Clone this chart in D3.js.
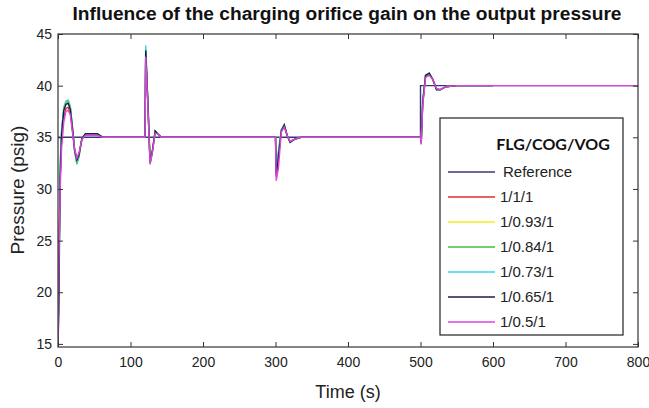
<!DOCTYPE html>
<html>
<head>
<meta charset="utf-8">
<script src="https://cdn.jsdelivr.net/npm/d3@7"></script>
<style>
  body { margin: 0; background: #fff; }
  text { font-family: "Liberation Sans Narrow", "Arial Narrow", "Liberation Sans", Arial, sans-serif; }
</style>
</head>
<body>
<svg id="canvas"></svg>
<script>
// time samples shared by the response curves (s)
const times = [0, 1, 3, 5, 8, 11, 14, 17, 20, 23, 26, 29, 33, 38, 54, 62,
  120, 121, 124, 127, 130, 134, 138, 143,
  300, 301, 304, 308, 312, 316, 320, 326, 335, 360,
  500, 501, 503, 507, 512, 517, 522, 527, 535, 550, 600, 800];

// reference setpoint
const refTimes = [0, 500, 500, 800];
const refValues = [35, 35, 40, 40];

// output pressure (psig) for each FLG/COG/VOG gain set
const red = [14.3, 22, 31, 35, 37, 37.8, 37.9, 37.3, 35.6, 33.8, 33.0, 33.4, 34.8, 35.3, 35.3, 35.0,
  35, 43.0, 38, 32.5, 33.6, 35.5, 35.3, 35.0,
  35, 31.5, 33, 35.6, 36.1, 35.2, 34.6, 34.8, 35.0, 35,
  35, 34.5, 38.2, 40.9, 41.1, 40.6, 39.7, 39.6, 39.9, 40.0, 40, null];
const yellow = [14.5, 21, 32, 35.5, 37.6, 38.3, 38.4, 37.8, 35.9, 33.6, 32.4, 33.2, 34.9, 35.35, 35.35, 35.0,
  35, 43.3, 38.2, 32.4, 33.5, 35.6, 35.3, 35.0,
  35, 32, 33.4, 35.7, 36.2, 35.2, 34.6, 34.8, 35.0, 35,
  35, 34.6, 38.4, 41.0, 41.2, 40.6, 39.7, 39.6, 39.9, 40.0, 40, null];
const green = [14.5, 20, 32.5, 35.8, 37.9, 38.5, 38.6, 38.0, 36.0, 33.6, 32.4, 33.1, 34.9, 35.35, 35.35, 35.0,
  35, 43.5, 38.3, 32.4, 33.5, 35.6, 35.3, 35.0,
  35, 32.3, 33.6, 35.7, 36.2, 35.2, 34.6, 34.8, 35.0, 35,
  35, 34.7, 38.5, 41.0, 41.2, 40.6, 39.7, 39.6, 39.9, 40.0, 40, null];
const cyan = [14.5, 19, 32, 35.6, 37.8, 38.4, 38.5, 37.9, 35.9, 33.7, 32.6, 33.2, 34.9, 35.35, 35.35, 35.0,
  35, 43.9, 38.5, 32.5, 33.5, 35.6, 35.3, 35.0,
  35, 31.8, 33.4, 35.7, 36.2, 35.2, 34.6, 34.8, 35.0, 35,
  35, 34.5, 38.4, 41.0, 41.2, 40.6, 39.7, 39.6, 39.9, 40.0, 40, null];
const black = [14.5, 18, 31, 35.3, 37.6, 38.2, 38.3, 37.7, 35.8, 33.7, 32.8, 33.3, 34.9, 35.35, 35.35, 35.0,
  35, 43.4, 38.3, 32.6, 33.6, 35.6, 35.3, 35.0,
  35, 31.2, 33.1, 35.6, 36.2, 35.2, 34.5, 34.8, 35.0, 35,
  35, 34.4, 38.3, 41.0, 41.2, 40.6, 39.6, 39.6, 39.9, 40.0, 40, null];
const magenta = [14.5, 22, 30, 34, 36.5, 37.5, 37.6, 37.2, 35.5, 33.8, 33.0, 33.5, 34.8, 35.2, 35.2, 35.0,
  35, 42.8, 38, 32.4, 33.5, 35.4, 35.3, 35.0,
  35, 30.8, 32, 35.5, 36.0, 35.2, 34.6, 34.8, 35.0, 35,
  35, 34.3, 38, 40.8, 41.0, 40.6, 39.7, 39.6, 39.9, 40.0, 40, 40];

const legendLabels = ['Reference', '1/1/1', '1/0.93/1', '1/0.84/1', '1/0.73/1', '1/0.65/1', '1/0.5/1'];
const legendTitle = 'FLG/COG/VOG';
const colors = ['#3a3578', '#e32b2b', '#f2ee1c', '#3cc23c', '#38d4e6', '#1c1c48', '#dd44dd'];

const xTicks = [0, 100, 200, 300, 400, 500, 600, 700, 800];
const yTicks = [15, 20, 25, 30, 35, 40, 45];

let width = 649;
let height = 408;
let plotLeft = 58, plotRight = 638, plotTop = 34, plotBottom = 347;

let canvas = d3.select('#canvas').attr('width', width).attr('height', height);

let xScale = d3.scaleLinear().domain([0, 800]).range([plotLeft, plotRight]);
let yScale = d3.scaleLinear().domain([14.7, 45]).range([plotBottom, plotTop]);

// clip region for the curves
canvas.append('clipPath').attr('id', 'plotclip')
  .append('rect')
  .attr('x', plotLeft).attr('y', plotTop)
  .attr('width', plotRight - plotLeft).attr('height', plotBottom - plotTop);

let line = d3.line()
  .defined(d => d[1] != null)
  .x(d => xScale(d[0]))
  .y(d => yScale(d[1]));

let series = [
  refTimes.map((t, i) => [t, refValues[i]]),
  times.map((t, i) => [t, red[i]]),
  times.map((t, i) => [t, yellow[i]]),
  times.map((t, i) => [t, green[i]]),
  times.map((t, i) => [t, cyan[i]]),
  times.map((t, i) => [t, black[i]]),
  times.map((t, i) => [t, magenta[i]])
];

canvas.append('g')
  .attr('clip-path', 'url(#plotclip)')
  .selectAll('path')
  .data(series)
  .enter()
  .append('path')
  .attr('d', d => line(d))
  .attr('fill', 'none')
  .attr('stroke', (d, i) => colors[i])
  .attr('stroke-width', 1.4);

// axes, matlab style: ticks pointing inward on all four sides
let xAxis = d3.axisBottom(xScale).tickValues(xTicks).tickSizeInner(-5).tickSizeOuter(0).tickPadding(10);
let yAxis = d3.axisLeft(yScale).tickValues(yTicks).tickSizeInner(-5).tickSizeOuter(0).tickPadding(6);

canvas.append('g')
  .attr('transform', 'translate(0,' + plotBottom + ')')
  .call(xAxis);
canvas.append('g')
  .attr('transform', 'translate(' + plotLeft + ',0)')
  .call(yAxis);

canvas.append('g')
  .attr('transform', 'translate(0,' + plotTop + ')')
  .call(d3.axisTop(xScale).tickValues(xTicks).tickSizeInner(-5).tickSizeOuter(0).tickFormat(''));
canvas.append('g')
  .attr('transform', 'translate(' + plotRight + ',0)')
  .call(d3.axisRight(yScale).tickValues(yTicks).tickSizeInner(-5).tickSizeOuter(0).tickFormat(''));

canvas.selectAll('.domain').remove();
canvas.selectAll('.tick line').attr('stroke', '#333');
canvas.selectAll('.tick text').attr('font-size', 14).attr('fill', '#222');

canvas.append('rect')
  .attr('x', plotLeft).attr('y', plotTop)
  .attr('width', plotRight - plotLeft).attr('height', plotBottom - plotTop)
  .attr('fill', 'none')
  .attr('stroke', '#333')
  .attr('stroke-width', 1.2);

// title and axis labels
canvas.append('text')
  .attr('x', 347).attr('y', 20)
  .attr('text-anchor', 'middle')
  .style('font-family', '"Liberation Sans", Arial, sans-serif')
  .attr('font-size', 18).attr('font-weight', 'bold')
  .attr('textLength', 549).attr('lengthAdjust', 'spacingAndGlyphs')
  .attr('fill', '#111')
  .text('Influence of the charging orifice gain on the output pressure');

canvas.append('text')
  .attr('x', 348).attr('y', 398)
  .attr('text-anchor', 'middle')
  .attr('font-size', 18).attr('fill', '#222')
  .text('Time (s)');

canvas.append('text')
  .attr('transform', 'translate(24,190) rotate(-90)')
  .attr('text-anchor', 'middle')
  .attr('font-size', 19).attr('fill', '#222')
  .text('Pressure (psig)');

// legend
let legend = canvas.append('g');
legend.append('rect')
  .attr('x', 440).attr('y', 118)
  .attr('width', 183).attr('height', 217)
  .attr('fill', '#fff')
  .attr('stroke', '#222')
  .attr('stroke-width', 1.2);

legend.append('text')
  .attr('x', 553).attr('y', 150)
  .attr('text-anchor', 'middle')
  .style('font-family', 'Lato, "Open Sans", sans-serif')
  .attr('font-size', 16).attr('font-weight', 'bold')
  .attr('fill', '#111')
  .text(legendTitle);

let items = legend.selectAll('.item')
  .data(legendLabels)
  .enter()
  .append('g')
  .attr('transform', (d, i) => 'translate(0,' + (172 + i * 25) + ')');

items.append('line')
  .attr('x1', 448).attr('x2', 495)
  .attr('stroke', (d, i) => colors[i])
  .attr('stroke-width', 1.4);

items.append('text')
  .attr('x', (d, i) => i == 0 ? 503 : 500)
  .attr('y', 5)
  .attr('font-size', 15).attr('fill', '#222')
  .text(d => d);
</script>
</body>
</html>
